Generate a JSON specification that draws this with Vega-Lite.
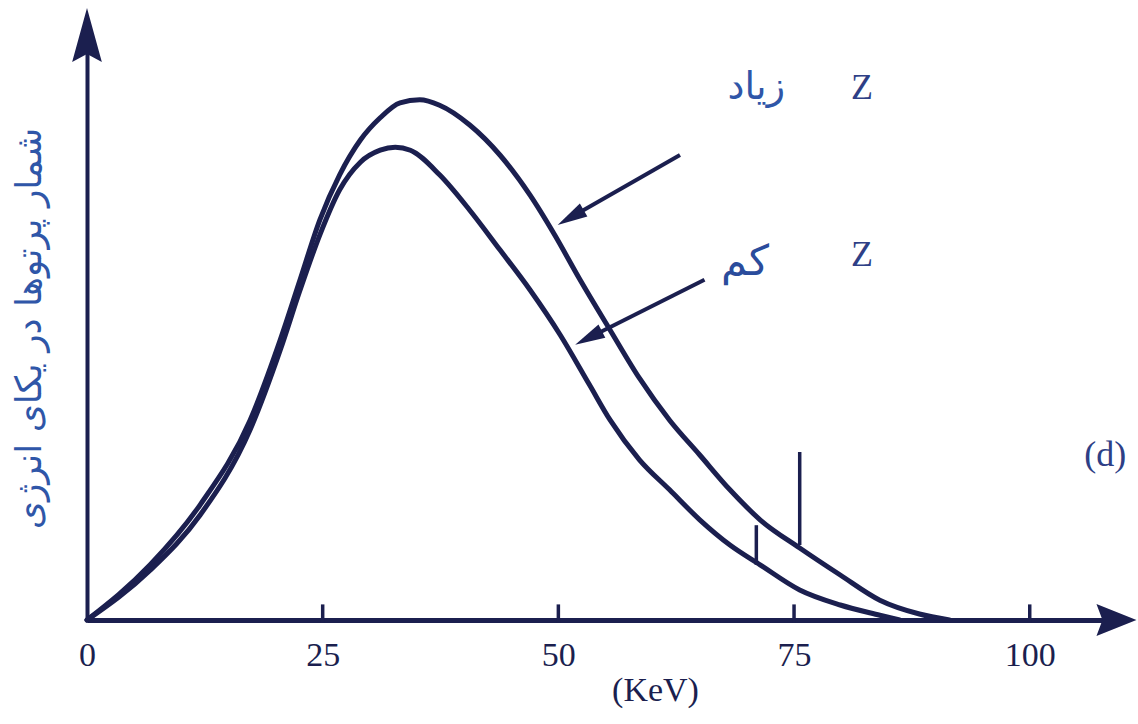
{
  "$schema": "https://vega.github.io/schema/vega-lite/v6.json",
  "width": 1037,
  "height": 600,
  "autosize": "none",
  "padding": {"left": 87, "top": 20, "right": 14, "bottom": 104},
  "background": "#ffffff",
  "config": {"view": {"stroke": null}},
  "datasets": {
    "curves": [
      {"series": "high", "x": 0, "y": 0},
      {"series": "high", "x": 6.7, "y": 9.2},
      {"series": "high", "x": 12.0, "y": 19.2},
      {"series": "high", "x": 17.3, "y": 33.3},
      {"series": "high", "x": 20.5, "y": 46.7},
      {"series": "high", "x": 22.6, "y": 56.7},
      {"series": "high", "x": 24.7, "y": 66.7},
      {"series": "high", "x": 26.8, "y": 74.2},
      {"series": "high", "x": 29.0, "y": 80.0},
      {"series": "high", "x": 31.1, "y": 83.7},
      {"series": "high", "x": 33.2, "y": 86.2},
      {"series": "high", "x": 35.3, "y": 86.7},
      {"series": "high", "x": 37.4, "y": 85.8},
      {"series": "high", "x": 40.6, "y": 82.5},
      {"series": "high", "x": 43.8, "y": 77.5},
      {"series": "high", "x": 47.0, "y": 70.8},
      {"series": "high", "x": 49.6, "y": 64.2},
      {"series": "high", "x": 52.3, "y": 56.7},
      {"series": "high", "x": 55.5, "y": 48.3},
      {"series": "high", "x": 58.6, "y": 40.3},
      {"series": "high", "x": 61.8, "y": 33.3},
      {"series": "high", "x": 65.0, "y": 27.5},
      {"series": "high", "x": 68.2, "y": 21.7},
      {"series": "high", "x": 71.4, "y": 16.7},
      {"series": "high", "x": 75.6, "y": 12.0},
      {"series": "high", "x": 79.9, "y": 7.5},
      {"series": "high", "x": 84.1, "y": 3.3},
      {"series": "high", "x": 88.3, "y": 1.0},
      {"series": "high", "x": 91.5, "y": 0},
      {"series": "low", "x": 0, "y": 0},
      {"series": "low", "x": 6.7, "y": 8.3},
      {"series": "low", "x": 12.0, "y": 17.5},
      {"series": "low", "x": 17.3, "y": 31.7},
      {"series": "low", "x": 20.5, "y": 45.0},
      {"series": "low", "x": 22.6, "y": 55.0},
      {"series": "low", "x": 24.7, "y": 64.2},
      {"series": "low", "x": 26.8, "y": 71.7},
      {"series": "low", "x": 29.0, "y": 76.3},
      {"series": "low", "x": 31.1, "y": 78.3},
      {"series": "low", "x": 32.7, "y": 78.8},
      {"series": "low", "x": 34.3, "y": 78.3},
      {"series": "low", "x": 37.4, "y": 74.2},
      {"series": "low", "x": 40.6, "y": 68.3},
      {"series": "low", "x": 43.8, "y": 61.7},
      {"series": "low", "x": 47.0, "y": 55.0},
      {"series": "low", "x": 50.2, "y": 47.5},
      {"series": "low", "x": 53.3, "y": 39.2},
      {"series": "low", "x": 55.5, "y": 33.3},
      {"series": "low", "x": 58.6, "y": 26.7},
      {"series": "low", "x": 61.8, "y": 21.7},
      {"series": "low", "x": 65.0, "y": 16.7},
      {"series": "low", "x": 68.2, "y": 12.5},
      {"series": "low", "x": 71.4, "y": 9.2},
      {"series": "low", "x": 75.6, "y": 5.0},
      {"series": "low", "x": 79.9, "y": 2.5},
      {"series": "low", "x": 84.1, "y": 0.8},
      {"series": "low", "x": 86.2, "y": 0}
    ],
    "lines": [
      {"x": 71.0, "y": 9.2, "y2": 15.8},
      {"x": 75.6, "y": 12.5, "y2": 28.0}
    ],
    "ticks": [
      {"x": 25}, {"x": 50}, {"x": 75}, {"x": 100}
    ],
    "arrows": [
      {"id": "high", "x": 62.9, "y": 77.5, "x2": 51.3, "y2": 67.1},
      {"id": "low", "x": 65.5, "y": 56.7, "x2": 53.2, "y2": 47.0}
    ],
    "farsi": [
      {"x": 71.0, "y": 88.7, "label": "زیاد", "size": "s"},
      {"x": 69.8, "y": 59.7, "label": "کم", "size": "l"}
    ],
    "latin": [
      {"x": 82.2, "y": 88.7, "label": "Z"},
      {"x": 82.2, "y": 60.8, "label": "Z"},
      {"x": 108.0, "y": 27.5, "label": "(d)"}
    ],
    "axisArrows": [
      {"dir": "x", "x": 109.2, "y": 0},
      {"dir": "y", "x": 0, "y": 97.5}
    ]
  },
  "layer": [
    {
      "data": {"name": "curves"},
      "mark": {"type": "line", "interpolate": "monotone", "strokeWidth": 5, "color": "#1b1f4f", "strokeCap": "round"},
      "encoding": {
        "x": {"field": "x", "type": "quantitative", "scale": {"domain": [0, 110], "nice": false},
          "axis": {"title": "(KeV)", "values": [0, 25, 50, 75, 100], "grid": false, "ticks": false, "labelFlush": false,
            "domainColor": "#1b1f4f", "domainWidth": 5,
            "labelFont": "Liberation Serif", "labelFontSize": 34, "labelColor": "#1b1f4f", "labelPadding": 18,
            "titleFont": "Liberation Serif", "titleFontSize": 34, "titleFontWeight": "normal", "titleColor": "#1b1f4f",
            "titleX": 568, "titleY": 70, "titleBaseline": "middle", "titleAlign": "center"}},
        "y": {"field": "y", "type": "quantitative", "scale": {"domain": [0, 100], "nice": false},
          "axis": {"title": "شمار پرتوها در یکای انرژی", "grid": false, "ticks": false, "labels": false,
            "domainColor": "#1b1f4f", "domainWidth": 4,
            "titleFont": "DejaVu Sans", "titleFontSize": 36, "titleFontWeight": "normal", "titleColor": "#2f56a8",
            "titleX": -58, "titleY": 308, "titleAlign": "center", "titleBaseline": "middle", "titleAngle": -90}},
        "detail": {"field": "series"}
      }
    },
    {
      "data": {"name": "ticks"},
      "mark": {"type": "rule", "strokeWidth": 3.5, "color": "#1b1f4f"},
      "encoding": {
        "x": {"field": "x", "type": "quantitative"},
        "y": {"datum": -0.5},
        "y2": {"datum": 2.6}
      }
    },
    {
      "data": {"name": "lines"},
      "mark": {"type": "rule", "strokeWidth": 3.5, "color": "#1b1f4f"},
      "encoding": {
        "x": {"field": "x", "type": "quantitative"},
        "y": {"field": "y", "type": "quantitative"},
        "y2": {"field": "y2"}
      }
    },
    {
      "data": {"name": "arrows"},
      "mark": {"type": "rule", "strokeWidth": 4, "color": "#1b1f4f"},
      "encoding": {
        "x": {"field": "x", "type": "quantitative"},
        "y": {"field": "y", "type": "quantitative"},
        "x2": {"field": "x2"},
        "y2": {"field": "y2"}
      }
    },
    {
      "data": {"name": "arrows"},
      "transform": [{"filter": "datum.id == 'high'"}],
      "mark": {"type": "point", "shape": "M0,-1L0.5,1L-0.5,1Z", "size": 900, "filled": true, "opacity": 1, "color": "#1b1f4f", "angle": 240},
      "encoding": {
        "x": {"field": "x2", "type": "quantitative"},
        "y": {"field": "y2", "type": "quantitative"}
      }
    },
    {
      "data": {"name": "arrows"},
      "transform": [{"filter": "datum.id == 'low'"}],
      "mark": {"type": "point", "shape": "M0,-1L0.5,1L-0.5,1Z", "size": 900, "filled": true, "opacity": 1, "color": "#1b1f4f", "angle": 243},
      "encoding": {
        "x": {"field": "x2", "type": "quantitative"},
        "y": {"field": "y2", "type": "quantitative"}
      }
    },
    {
      "data": {"name": "axisArrows"},
      "transform": [{"filter": "datum.dir == 'x'"}],
      "mark": {"type": "point", "shape": "M1,0L-1,0.8L-0.7,0L-1,-0.8Z", "size": 1600, "filled": true, "opacity": 1, "color": "#1b1f4f"},
      "encoding": {
        "x": {"field": "x", "type": "quantitative"},
        "y": {"field": "y", "type": "quantitative"}
      }
    },
    {
      "data": {"name": "axisArrows"},
      "transform": [{"filter": "datum.dir == 'y'"}],
      "mark": {"type": "point", "shape": "M0,-1L0.55,1L0,0.7L-0.55,1Z", "size": 2916, "filled": true, "opacity": 1, "color": "#1b1f4f"},
      "encoding": {
        "x": {"field": "x", "type": "quantitative"},
        "y": {"field": "y", "type": "quantitative"}
      }
    },
    {
      "data": {"name": "farsi"},
      "transform": [{"filter": "datum.size == 's'"}],
      "mark": {"type": "text", "font": "DejaVu Sans", "fontSize": 38, "color": "#2f56a8", "align": "center", "baseline": "middle"},
      "encoding": {
        "x": {"field": "x", "type": "quantitative"},
        "y": {"field": "y", "type": "quantitative"},
        "text": {"field": "label"}
      }
    },
    {
      "data": {"name": "farsi"},
      "transform": [{"filter": "datum.size == 'l'"}],
      "mark": {"type": "text", "font": "DejaVu Sans", "fontSize": 42, "color": "#2a4c9c", "align": "center", "baseline": "middle"},
      "encoding": {
        "x": {"field": "x", "type": "quantitative"},
        "y": {"field": "y", "type": "quantitative"},
        "text": {"field": "label"}
      }
    },
    {
      "data": {"name": "latin"},
      "mark": {"type": "text", "font": "Liberation Serif", "fontSize": 36, "color": "#2e3f86", "align": "center", "baseline": "middle"},
      "encoding": {
        "x": {"field": "x", "type": "quantitative"},
        "y": {"field": "y", "type": "quantitative"},
        "text": {"field": "label"}
      }
    }
  ]
}
